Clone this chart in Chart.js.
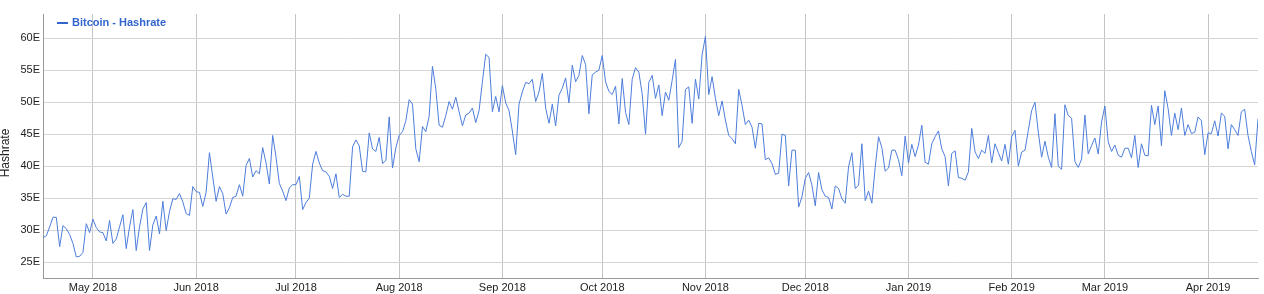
<!DOCTYPE html>
<html lang="en">
<head>
<meta charset="UTF-8">
<title>Bitcoin - Hashrate</title>
<script src="https://cdn.jsdelivr.net/npm/chart.js"></script>
<style>
    html, body { margin: 0; padding: 0; background: #fff; }
    .wrap { position: relative; width: 1264px; height: 294px; }
</style>
</head>
<body>
<div class="wrap"><canvas id="hashChart" width="1264" height="294"></canvas></div>
<script>
    const seriesName = "Bitcoin - Hashrate";
    const axisTitle = "Hashrate";

    // x = days since 16 Apr 2018, one value per day (EH/s)
    const hashrate = [
        // Apr 16-30 2018
        28.8, 29.1, 30.5, 32.0, 32.0, 27.4, 30.7, 30.2, 29.3, 27.9, 25.8, 25.9, 26.5, 31.0, 29.6,
        // May
        31.7, 30.4, 29.7, 29.6, 28.3, 31.5, 27.9, 28.6, 30.5, 32.4, 27.1, 30.5, 33.2, 26.8, 30.5, 33.3,
        34.3, 26.8, 30.8, 32.2, 29.4, 34.5, 29.9, 32.9, 34.9, 34.8, 35.7, 34.4, 32.6, 32.3, 36.8,
        // Jun
        36.0, 35.9, 33.7, 35.9, 42.1, 38.3, 34.5, 36.8, 35.7, 32.5, 33.5, 35.1, 35.3, 37.1, 35.3,
        40.1, 41.2, 38.3, 39.3, 38.8, 42.9, 40.5, 37.2, 44.8, 41.4, 37.3, 36.1, 34.6, 36.6, 37.1,
        // Jul
        37.1, 38.4, 33.2, 34.3, 35.0, 40.3, 42.3, 40.5, 39.3, 39.1, 38.4, 36.5, 38.8, 35.1, 35.6, 35.3,
        35.3, 43.0, 44.1, 43.2, 39.2, 39.1, 45.2, 42.7, 42.3, 44.5, 40.4, 40.9, 47.7, 39.7, 42.9,
        // Aug
        44.8, 45.4, 47.1, 50.4, 49.7, 42.7, 40.7, 46.2, 45.4, 47.8, 55.6, 52.1, 46.4, 46.1, 47.9, 50.1,
        48.9, 50.8, 48.5, 46.3, 48.0, 48.3, 49.1, 46.8, 48.7, 53.2, 57.5, 57.0, 48.5, 50.9, 48.5,
        // Sep
        52.6, 49.9, 48.7, 45.5, 41.8, 49.7, 51.6, 53.1, 52.9, 53.6, 50.1, 51.6, 54.5, 49.1, 46.7,
        49.7, 46.3, 51.1, 52.2, 53.8, 49.9, 55.8, 53.2, 54.2, 57.3, 55.9, 48.2, 54.3, 54.7, 55.0,
        // Oct
        57.3, 53.2, 51.7, 51.2, 52.5, 46.6, 53.7, 48.4, 46.5, 53.6, 55.4, 54.7, 51.3, 45.0, 53.1, 54.2,
        50.6, 52.7, 47.9, 51.6, 50.3, 53.4, 56.7, 42.9, 43.9, 52.0, 52.4, 46.7, 53.6, 50.5, 57.4,
        // Nov
        60.3, 51.2, 54.0, 50.6, 47.9, 50.2, 47.2, 44.8, 44.3, 43.5, 52.0, 49.5, 46.5, 47.2, 46.1,
        42.8, 46.7, 46.6, 41.0, 41.3, 40.4, 38.7, 38.9, 45.0, 44.8, 36.9, 42.5, 42.5, 33.6, 35.2,
        // Dec
        38.1, 39.0, 37.0, 33.8, 39.0, 36.3, 35.3, 35.1, 33.3, 36.9, 36.5, 34.9, 34.2, 39.9, 42.1, 36.5,
        37.0, 43.5, 34.6, 36.1, 34.2, 39.8, 44.6, 42.9, 39.2, 39.7, 42.5, 42.5, 41.0, 38.5, 44.7,
        // Jan 2019
        40.5, 43.4, 41.5, 43.3, 46.4, 40.6, 40.3, 43.5, 44.6, 45.5, 42.7, 41.5, 36.9, 42.0, 42.4, 38.2,
        38.1, 37.8, 39.1, 45.9, 42.2, 41.2, 42.5, 42.0, 44.8, 40.5, 43.5, 42.1, 40.8, 43.4, 40.3,
        // Feb
        44.6, 45.6, 40.0, 42.2, 42.5, 45.6, 48.7, 50.0, 45.3, 41.4, 43.9, 41.4, 39.8, 48.2,
        40.0, 39.5, 49.6, 47.9, 47.5, 40.7, 39.8, 41.1, 48.0, 41.9, 43.2, 44.4, 41.9, 46.9,
        // Mar
        49.4, 43.8, 42.3, 43.3, 41.7, 41.4, 42.8, 42.8, 41.3, 44.8, 39.8, 43.5, 41.7, 41.6, 49.5, 46.5,
        49.4, 43.2, 51.8, 49.0, 44.8, 48.3, 45.7, 49.1, 44.8, 46.5, 45.1, 45.3, 47.7, 47.1, 41.8,
        // Apr 1-16
        45.2, 45.1, 47.1, 44.7, 48.3, 47.8, 42.7, 46.5, 45.7, 44.8, 48.5, 48.9, 44.8, 42.3, 40.2, 47.4
    ];

    const tickDays = [15, 46, 76, 107, 138, 168, 199, 229, 260, 291, 319, 350];
    const tickLabels = ["May 2018", "Jun 2018", "Jul 2018", "Aug 2018", "Sep 2018", "Oct 2018",
                        "Nov 2018", "Dec 2018", "Jan 2019", "Feb 2019", "Mar 2019", "Apr 2019"];
    const yTicks = [25, 30, 35, 40, 45, 50, 55, 60];

    const lineColor = "#4d7ddb";
    const fontFamily = 'Arial, "Liberation Sans", sans-serif';

    // legend in the top-left corner and the y title, drawn like the original
    const extras = {
        id: "extras",
        afterDraw(chart) {
            const c = chart.ctx;
            c.save();
            c.fillStyle = "#3366cc";
            c.fillRect(57, 22, 11, 2);
            c.font = "bold 11px " + fontFamily;
            c.textBaseline = "middle";
            c.fillText(seriesName, 72, 23);

            c.fillStyle = "#222";
            c.font = "12px " + fontFamily;
            c.textAlign = "center";
            c.translate(6, 153);
            c.rotate(-Math.PI / 2);
            c.fillText(axisTitle, 0, 0);
            c.restore();
        }
    };

    new Chart(document.getElementById("hashChart"), {
        type: "line",
        data: {
            datasets: [{
                label: seriesName,
                data: hashrate.map((v, i) => ({ x: i, y: v })),
                borderColor: lineColor,
                borderWidth: 1,
                pointRadius: 0,
                tension: 0,
                fill: false
            }]
        },
        options: {
            responsive: false,
            animation: false,
            layout: { padding: { top: 14, right: 6, left: 0, bottom: 0 } },
            plugins: { legend: { display: false }, tooltip: { enabled: false } },
            scales: {
                x: {
                    type: "linear",
                    min: 0,
                    max: hashrate.length - 1,
                    afterBuildTicks: s => { s.ticks = tickDays.map(v => ({ value: v })); },
                    afterFit: s => { s.height = 16; },
                    ticks: {
                        autoSkip: false,
                        maxRotation: 0,
                        padding: 3,
                        color: "#222",
                        font: { family: fontFamily, size: 11 },
                        callback: (v, i) => tickLabels[i]
                    },
                    grid: { color: "#c4c4c4", drawTicks: false },
                    border: { color: "#999999", width: 1 }
                },
                y: {
                    min: 22.5,
                    max: 63.8,
                    afterBuildTicks: s => { s.ticks = yTicks.map(v => ({ value: v })); },
                    afterFit: s => { s.width = 43; },
                    ticks: {
                        padding: 3,
                        color: "#222",
                        font: { family: fontFamily, size: 11 },
                        callback: v => v + "E"
                    },
                    grid: { color: "#d6d6d6", drawTicks: false },
                    border: { color: "#999999", width: 1 }
                }
            }
        },
        plugins: [extras]
    });
</script>
</body>
</html>
